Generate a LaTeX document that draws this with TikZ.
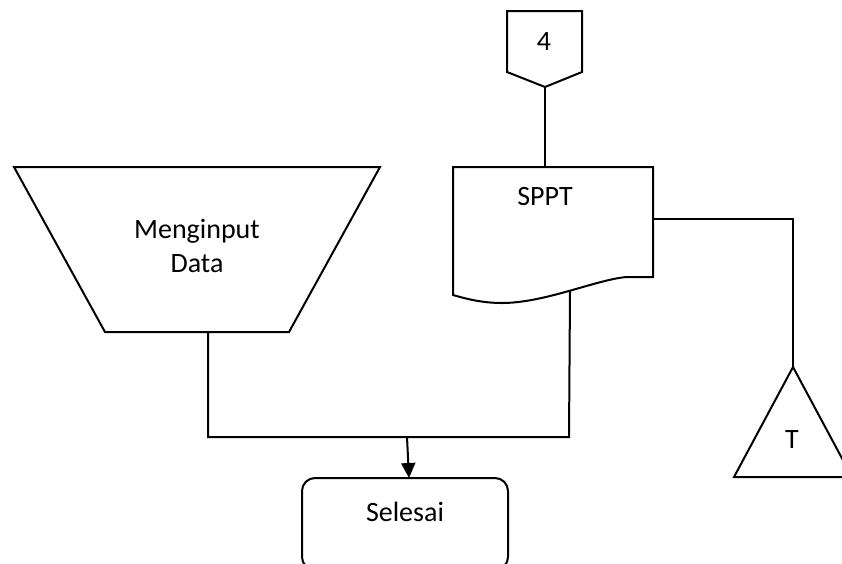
\documentclass[tikz,border=0pt]{standalone}
\usepackage{fontspec}
\setmainfont{Carlito}
\usetikzlibrary{arrows.meta}
\begin{document}
\begin{tikzpicture}[x=1pt,y=-1pt,
  shapeline/.style={draw=black,line width=2pt,line join=miter},
  conn/.style={draw=black,line width=2pt},
  lbl/.style={font=\fontsize{28}{34}\selectfont,text=black,inner sep=0pt,align=center}]
\useasboundingbox (0,0) rectangle (842,563);
% off-page connector 4
\draw[shapeline] (507,11) -- (582,11) -- (582,72) -- (545,87) -- (507,72) -- cycle;
\coordinate (offbot) at (545,87);
\node[lbl] (four) at (544,42) {4};
% document SPPT
\draw[shapeline] (453,167) -- (653,167) -- (653,277) -- (627,277)
  .. controls (598,279) and (545,303) .. (502,303)
  .. controls (485,303) and (470,300) .. (453,295) -- cycle;
\coordinate (doctop) at (545,167);
\coordinate (docright) at (653,219);
\coordinate (docbot) at (570,291);
\node[lbl] (sppt) at (545,197) {SPPT};
% manual input trapezoid
\draw[shapeline] (14,167) -- (380,167) -- (289,332) -- (105,332) -- cycle;
\coordinate (trapbot) at (208,332);
\node[lbl] (menginput) at (197,246) {Menginput\\Data};
% triangle T
\draw[shapeline] (793,367) -- (852,477) -- (734,477) -- cycle;
\coordinate (triapex) at (793,367);
\node[lbl] (t) at (792,440) {T};
% terminator Selesai
\draw[shapeline,rounded corners=13pt] (302,478) rectangle (508,570);
\coordinate (seltop) at (409,478);
\node[lbl] (selesai) at (405,512) {Selesai};
% connectors
\draw[conn] (offbot) -- (doctop);
\draw[conn] (docright) -- (793,219) -- (triapex);
\coordinate (join) at (407,437);
\draw[conn] (trapbot) -- (208,437) -- (569,437) -- (docbot);
\draw[conn,-{Triangle[length=15pt,width=14pt]}] (join) -- (seltop);
\end{tikzpicture}
\end{document}
